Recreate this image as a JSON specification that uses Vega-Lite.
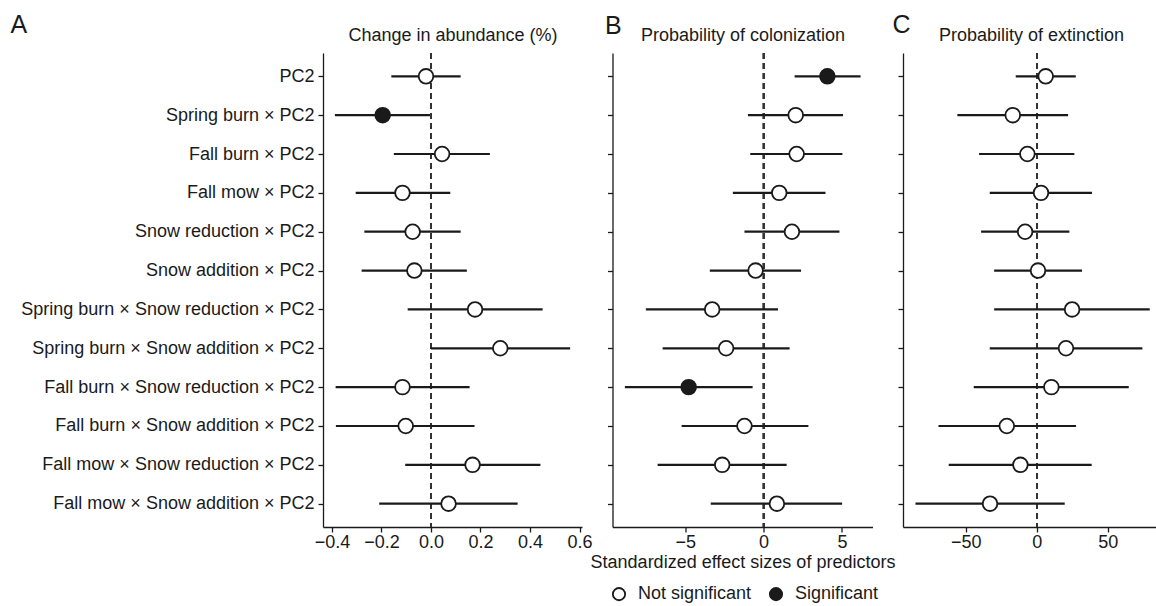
{
  "$schema": "https://vega.github.io/schema/vega-lite/v6.json",
  "autosize": {"type": "none"},
  "padding": {"left": 323, "top": 53, "right": 833, "bottom": 553},
  "background": "white",
  "config": {
    "font": "Liberation Sans",
    "view": {"stroke": null},
    "axis": {
      "labelFont": "Liberation Sans", "titleFont": "Liberation Sans",
      "labelFontSize": 18, "titleFontSize": 18, "titleFontWeight": "normal",
      "labelColor": "#1a1a1a", "titleColor": "#1a1a1a",
      "domainColor": "#1a1a1a", "domainWidth": 1.3, "tickColor": "#1a1a1a", "tickWidth": 1.3, "tickSize": 5,
      "grid": false
    },
    "legend": {"labelFont": "Liberation Sans", "labelFontSize": 18, "labelColor": "#1a1a1a"}
  },
  "datasets": {
    "effects": [
      {"panel": "A", "pred": "PC2", "est": -0.02, "lo": -0.16, "hi": 0.12, "sig": "Not significant"},
      {"panel": "A", "pred": "Spring burn × PC2", "est": -0.195, "lo": -0.388, "hi": -0.004, "sig": "Significant"},
      {"panel": "A", "pred": "Fall burn × PC2", "est": 0.045, "lo": -0.15, "hi": 0.238, "sig": "Not significant"},
      {"panel": "A", "pred": "Fall mow × PC2", "est": -0.115, "lo": -0.304, "hi": 0.078, "sig": "Not significant"},
      {"panel": "A", "pred": "Snow reduction × PC2", "est": -0.074, "lo": -0.269, "hi": 0.12, "sig": "Not significant"},
      {"panel": "A", "pred": "Snow addition × PC2", "est": -0.067, "lo": -0.28, "hi": 0.145, "sig": "Not significant"},
      {"panel": "A", "pred": "Spring burn × Snow reduction × PC2", "est": 0.178, "lo": -0.094, "hi": 0.451, "sig": "Not significant"},
      {"panel": "A", "pred": "Spring burn × Snow addition × PC2", "est": 0.28, "lo": 0.0, "hi": 0.562, "sig": "Not significant"},
      {"panel": "A", "pred": "Fall burn × Snow reduction × PC2", "est": -0.115, "lo": -0.385, "hi": 0.156, "sig": "Not significant"},
      {"panel": "A", "pred": "Fall burn × Snow addition × PC2", "est": -0.102, "lo": -0.384, "hi": 0.176, "sig": "Not significant"},
      {"panel": "A", "pred": "Fall mow × Snow reduction × PC2", "est": 0.168, "lo": -0.104, "hi": 0.442, "sig": "Not significant"},
      {"panel": "A", "pred": "Fall mow × Snow addition × PC2", "est": 0.071, "lo": -0.209, "hi": 0.35, "sig": "Not significant"},
      {"panel": "B", "pred": "PC2", "est": 4.07, "lo": 1.98, "hi": 6.19, "sig": "Significant"},
      {"panel": "B", "pred": "Spring burn × PC2", "est": 2.05, "lo": -1.0, "hi": 5.07, "sig": "Not significant"},
      {"panel": "B", "pred": "Fall burn × PC2", "est": 2.11, "lo": -0.85, "hi": 5.03, "sig": "Not significant"},
      {"panel": "B", "pred": "Fall mow × PC2", "est": 1.0, "lo": -1.96, "hi": 3.95, "sig": "Not significant"},
      {"panel": "B", "pred": "Snow reduction × PC2", "est": 1.81, "lo": -1.22, "hi": 4.84, "sig": "Not significant"},
      {"panel": "B", "pred": "Snow addition × PC2", "est": -0.51, "lo": -3.43, "hi": 2.39, "sig": "Not significant"},
      {"panel": "B", "pred": "Spring burn × Snow reduction × PC2", "est": -3.28, "lo": -7.51, "hi": 0.92, "sig": "Not significant"},
      {"panel": "B", "pred": "Spring burn × Snow addition × PC2", "est": -2.39, "lo": -6.44, "hi": 1.66, "sig": "Not significant"},
      {"panel": "B", "pred": "Fall burn × Snow reduction × PC2", "est": -4.78, "lo": -8.85, "hi": -0.7, "sig": "Significant"},
      {"panel": "B", "pred": "Fall burn × Snow addition × PC2", "est": -1.22, "lo": -5.23, "hi": 2.86, "sig": "Not significant"},
      {"panel": "B", "pred": "Fall mow × Snow reduction × PC2", "est": -2.64, "lo": -6.76, "hi": 1.47, "sig": "Not significant"},
      {"panel": "B", "pred": "Fall mow × Snow addition × PC2", "est": 0.85, "lo": -3.37, "hi": 5.01, "sig": "Not significant"},
      {"panel": "C", "pred": "PC2", "est": 6.3, "lo": -14.8, "hi": 27.5, "sig": "Not significant"},
      {"panel": "C", "pred": "Spring burn × PC2", "est": -16.9, "lo": -55.9, "hi": 22.1, "sig": "Not significant"},
      {"panel": "C", "pred": "Fall burn × PC2", "est": -6.6, "lo": -40.6, "hi": 26.5, "sig": "Not significant"},
      {"panel": "C", "pred": "Fall mow × PC2", "est": 3.0, "lo": -33.1, "hi": 38.9, "sig": "Not significant"},
      {"panel": "C", "pred": "Snow reduction × PC2", "est": -8.2, "lo": -39.2, "hi": 23.0, "sig": "Not significant"},
      {"panel": "C", "pred": "Snow addition × PC2", "est": 0.9, "lo": -30.0, "hi": 31.9, "sig": "Not significant"},
      {"panel": "C", "pred": "Spring burn × Snow reduction × PC2", "est": 24.9, "lo": -30.0, "hi": 79.6, "sig": "Not significant"},
      {"panel": "C", "pred": "Spring burn × Snow addition × PC2", "est": 20.6, "lo": -33.1, "hi": 74.4, "sig": "Not significant"},
      {"panel": "C", "pred": "Fall burn × Snow reduction × PC2", "est": 10.3, "lo": -44.4, "hi": 64.8, "sig": "Not significant"},
      {"panel": "C", "pred": "Fall burn × Snow addition × PC2", "est": -21.1, "lo": -69.2, "hi": 27.7, "sig": "Not significant"},
      {"panel": "C", "pred": "Fall mow × Snow reduction × PC2", "est": -11.5, "lo": -62.0, "hi": 38.7, "sig": "Not significant"},
      {"panel": "C", "pred": "Fall mow × Snow addition × PC2", "est": -32.9, "lo": -85.4, "hi": 19.7, "sig": "Not significant"}
    ]
  },
  "data": {"name": "effects"},
  "spacing": 30.5,
  "bounds": "flush",
  "hconcat": [
    {
      "width": 259, "height": 474,
      "transform": [{"filter": "datum.panel == 'A'"}],
      "layer": [
        {
          "mark": {"type": "rule", "strokeDash": [6, 4], "color": "#333333", "strokeWidth": 1.3},
          "encoding": {
            "x": {"datum": 0, "type": "quantitative",
              "scale": {"domain": [-0.436, 0.61], "nice": false, "zero": false},
              "axis": {"orient": "top", "title": "A", "labels": false, "ticks": false, "domain": false,
                "titleX": -313, "titleY": -21, "titleFontSize": 25, "titleAlign": "left", "titleBaseline": "alphabetic", "titleAngle": 0}}
          }
        },
        {
          "mark": {"type": "rule", "color": "#1a1a1a", "strokeWidth": 2.2},
          "encoding": {
            "x": {"field": "lo", "type": "quantitative",
              "scale": {"domain": [-0.436, 0.61], "nice": false, "zero": false},
              "axis": {"orient": "top", "title": "Change in abundance (%)", "labels": false, "ticks": false, "domain": false,
                "titleY": -13, "titleBaseline": "alphabetic"}},
            "x2": {"field": "hi"},
            "y": {"field": "pred", "type": "nominal",
              "scale": {"type": "point", "domain": ["PC2", "Spring burn × PC2", "Fall burn × PC2", "Fall mow × PC2", "Snow reduction × PC2", "Snow addition × PC2", "Spring burn × Snow reduction × PC2", "Spring burn × Snow addition × PC2", "Fall burn × Snow reduction × PC2", "Fall burn × Snow addition × PC2", "Fall mow × Snow reduction × PC2", "Fall mow × Snow addition × PC2"], "padding": 0.6}}
          }
        },
        {
          "mark": {"type": "point", "shape": "circle", "filled": true, "stroke": "#1a1a1a", "strokeWidth": 1.8, "size": 215, "opacity": 1},
          "encoding": {
            "x": {"field": "est", "type": "quantitative",
              "scale": {"domain": [-0.436, 0.61], "nice": false, "zero": false},
              "axis": {"orient": "bottom", "title": null, "values": [-0.4, -0.2, 0, 0.2, 0.4, 0.6], "format": ".1f", "labelPadding": 1}},
            "y": {"field": "pred", "type": "nominal",
              "scale": {"type": "point", "domain": ["PC2", "Spring burn × PC2", "Fall burn × PC2", "Fall mow × PC2", "Snow reduction × PC2", "Snow addition × PC2", "Spring burn × Snow reduction × PC2", "Spring burn × Snow addition × PC2", "Fall burn × Snow reduction × PC2", "Fall burn × Snow addition × PC2", "Fall mow × Snow reduction × PC2", "Fall mow × Snow addition × PC2"], "padding": 0.6},
              "axis": {"title": null, "labelPadding": 4, "labelLimit": 400}},
            "fill": {"field": "sig", "type": "nominal",
              "scale": {"domain": ["Not significant", "Significant"], "range": ["#ffffff", "#1a1a1a"]},
              "legend": {"title": null, "orient": "none", "legendX": 287, "legendY": 532, "direction": "horizontal",
                "symbolType": "circle", "symbolSize": 150, "symbolStrokeWidth": 1.8, "symbolStrokeColor": "#1a1a1a",
                "labelOffset": 10, "columnPadding": 14}}
          }
        }
      ],
      "resolve": {"axis": {"x": "independent"}}
    },
    {
      "width": 260, "height": 474,
      "transform": [{"filter": "datum.panel == 'B'"}],
      "layer": [
        {
          "mark": {"type": "rule", "strokeDash": [6, 4], "color": "#333333", "strokeWidth": 1.3},
          "encoding": {
            "x": {"datum": 0, "type": "quantitative",
              "scale": {"domain": [-9.64, 6.95], "nice": false, "zero": false},
              "axis": {"orient": "top", "title": "B", "labels": false, "ticks": false, "domain": false,
                "titleX": -8, "titleY": -20, "titleFontSize": 25, "titleAlign": "left", "titleBaseline": "alphabetic", "titleAngle": 0}}
          }
        },
        {
          "mark": {"type": "rule", "color": "#1a1a1a", "strokeWidth": 2.2},
          "encoding": {
            "x": {"field": "lo", "type": "quantitative",
              "scale": {"domain": [-9.64, 6.95], "nice": false, "zero": false},
              "axis": {"orient": "top", "title": "Probability of colonization", "labels": false, "ticks": false, "domain": false,
                "titleY": -13, "titleBaseline": "alphabetic"}},
            "x2": {"field": "hi"},
            "y": {"field": "pred", "type": "nominal",
              "scale": {"type": "point", "domain": ["PC2", "Spring burn × PC2", "Fall burn × PC2", "Fall mow × PC2", "Snow reduction × PC2", "Snow addition × PC2", "Spring burn × Snow reduction × PC2", "Spring burn × Snow addition × PC2", "Fall burn × Snow reduction × PC2", "Fall burn × Snow addition × PC2", "Fall mow × Snow reduction × PC2", "Fall mow × Snow addition × PC2"], "padding": 0.6}}
          }
        },
        {
          "mark": {"type": "point", "shape": "circle", "filled": true, "stroke": "#1a1a1a", "strokeWidth": 1.8, "size": 215, "opacity": 1},
          "encoding": {
            "x": {"field": "est", "type": "quantitative",
              "scale": {"domain": [-9.64, 6.95], "nice": false, "zero": false},
              "axis": {"orient": "bottom", "title": "Standardized effect sizes of predictors", "values": [-5, 0, 5], "format": "d", "labelPadding": 1, "titlePadding": 2}},
            "y": {"field": "pred", "type": "nominal",
              "scale": {"type": "point", "domain": ["PC2", "Spring burn × PC2", "Fall burn × PC2", "Fall mow × PC2", "Snow reduction × PC2", "Snow addition × PC2", "Spring burn × Snow reduction × PC2", "Spring burn × Snow addition × PC2", "Fall burn × Snow reduction × PC2", "Fall burn × Snow addition × PC2", "Fall mow × Snow reduction × PC2", "Fall mow × Snow addition × PC2"], "padding": 0.6},
              "axis": {"title": null, "labels": false}},
            "fill": {"field": "sig", "type": "nominal",
              "scale": {"domain": ["Not significant", "Significant"], "range": ["#ffffff", "#1a1a1a"]}}
          }
        }
      ],
      "resolve": {"axis": {"x": "independent"}}
    },
    {
      "width": 253, "height": 474,
      "transform": [{"filter": "datum.panel == 'C'"}],
      "layer": [
        {
          "mark": {"type": "rule", "strokeDash": [6, 4], "color": "#333333", "strokeWidth": 1.3},
          "encoding": {
            "x": {"datum": 0, "type": "quantitative",
              "scale": {"domain": [-94.2, 84.0], "nice": false, "zero": false},
              "axis": {"orient": "top", "title": "C", "labels": false, "ticks": false, "domain": false,
                "titleX": -11, "titleY": -21, "titleFontSize": 25, "titleAlign": "left", "titleBaseline": "alphabetic", "titleAngle": 0}}
          }
        },
        {
          "mark": {"type": "rule", "color": "#1a1a1a", "strokeWidth": 2.2},
          "encoding": {
            "x": {"field": "lo", "type": "quantitative",
              "scale": {"domain": [-94.2, 84.0], "nice": false, "zero": false},
              "axis": {"orient": "top", "title": "Probability of extinction", "labels": false, "ticks": false, "domain": false,
                "titleY": -13, "titleX": 128, "titleBaseline": "alphabetic"}},
            "x2": {"field": "hi"},
            "y": {"field": "pred", "type": "nominal",
              "scale": {"type": "point", "domain": ["PC2", "Spring burn × PC2", "Fall burn × PC2", "Fall mow × PC2", "Snow reduction × PC2", "Snow addition × PC2", "Spring burn × Snow reduction × PC2", "Spring burn × Snow addition × PC2", "Fall burn × Snow reduction × PC2", "Fall burn × Snow addition × PC2", "Fall mow × Snow reduction × PC2", "Fall mow × Snow addition × PC2"], "padding": 0.6}}
          }
        },
        {
          "mark": {"type": "point", "shape": "circle", "filled": true, "stroke": "#1a1a1a", "strokeWidth": 1.8, "size": 215, "opacity": 1},
          "encoding": {
            "x": {"field": "est", "type": "quantitative",
              "scale": {"domain": [-94.2, 84.0], "nice": false, "zero": false},
              "axis": {"orient": "bottom", "title": null, "values": [-50, 0, 50], "format": "d", "labelPadding": 1}},
            "y": {"field": "pred", "type": "nominal",
              "scale": {"type": "point", "domain": ["PC2", "Spring burn × PC2", "Fall burn × PC2", "Fall mow × PC2", "Snow reduction × PC2", "Snow addition × PC2", "Spring burn × Snow reduction × PC2", "Spring burn × Snow addition × PC2", "Fall burn × Snow reduction × PC2", "Fall burn × Snow addition × PC2", "Fall mow × Snow reduction × PC2", "Fall mow × Snow addition × PC2"], "padding": 0.6},
              "axis": {"title": null, "labels": false}},
            "fill": {"field": "sig", "type": "nominal",
              "scale": {"domain": ["Not significant", "Significant"], "range": ["#ffffff", "#1a1a1a"]}}
          }
        }
      ],
      "resolve": {"axis": {"x": "independent"}}
    }
  ]
}
